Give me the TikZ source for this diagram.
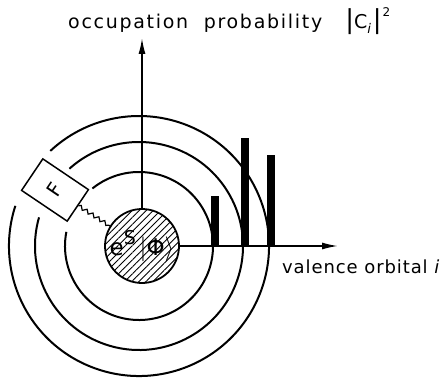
\documentclass[tikz,border=0pt]{standalone}
\usepackage{fontspec}
\setmainfont{DejaVu Sans}
\newfontfamily\labelfont[LetterSpace=5]{DejaVu Sans}
\newfontfamily\widefont[LetterSpace=9]{DejaVu Sans}
\usepackage{amsmath}
\usetikzlibrary{arrows.meta,patterns.meta,decorations.pathmorphing}

\newcommand{\tallbar}{{\fontsize{26}{26}\selectfont|}}

\begin{document}
\begin{tikzpicture}[
  x=1pt, y=1pt,
  font=\labelfont\fontsize{18}{21}\selectfont,
  >={Latex[length=16pt,width=7pt]},
  shell/.style={line width=2pt},
  axis/.style={->, line width=1.6pt},
  core/.style={
    circle, draw, line width=1.8pt, minimum size=74pt, inner sep=0pt,
    pattern={Lines[angle=45,distance=5pt,line width=0.9pt]}
  },
  bar/.style={fill=black, minimum width=8pt, inner sep=0pt, anchor=south},
  fbox/.style={
    draw, line width=1.5pt, rotate=56, inner sep=0pt,
    minimum width=38pt, minimum height=55pt, fill=white,
    font=\labelfont\fontsize{20}{22}\selectfont
  },
  wave/.style={
    line width=1.2pt, decorate,
    decoration={snake, amplitude=1.8pt, segment length=7pt}
  }
]
\useasboundingbox (0,0) rectangle (444,378);

% ---------- shells round the core ----------
\coordinate (c) at (139,132);
\draw[shell] (c) ++(169:74)  arc[start angle=169, end angle=489, radius=74];
\draw[shell] (c) ++(164:104) arc[start angle=164, end angle=492, radius=104];
\draw[shell] (c) ++(162:130) arc[start angle=162, end angle=493, radius=130];

% ---------- core and axes ----------
\node[core] (core) at (142,132)
  {\fontsize{23}{26}\selectfont e\raisebox{0.9ex}{\fontsize{19}{19}\selectfont S}\,$|$Φ$\rangle$};
\coordinate (ytip) at (142,340);
\coordinate (xtip) at (338,132);
\draw[axis] (core.north) -- (ytip);
\draw[axis] (core.east) -- (xtip);

% ---------- occupation bars ----------
\node[bar, minimum height=50pt]  (b1) at (215,132) {};
\node[bar, minimum height=108pt] (b2) at (245,132) {};
\node[bar, minimum height=91pt]  (b3) at (271,132) {};

% ---------- field box ----------
\node[fbox] (F) at (55,188) {F};
\draw[wave] (F.south) -- (core.148);

% ---------- labels ----------
\node[anchor=base west, inner sep=0pt, font=\widefont\fontsize{19}{21}\selectfont]
  (ylabel) at (68,349)
  {occupation\ \ probability\ \ \ \tallbar C\textsubscript{\textit{i}}\tallbar\kern1pt\raisebox{1.2ex}{\fontsize{12}{12}\selectfont 2}};
\node[anchor=base west, inner sep=0pt] (xlabel) at (282,105)
  {valence orbital \textit{i}};

\end{tikzpicture}
\end{document}
